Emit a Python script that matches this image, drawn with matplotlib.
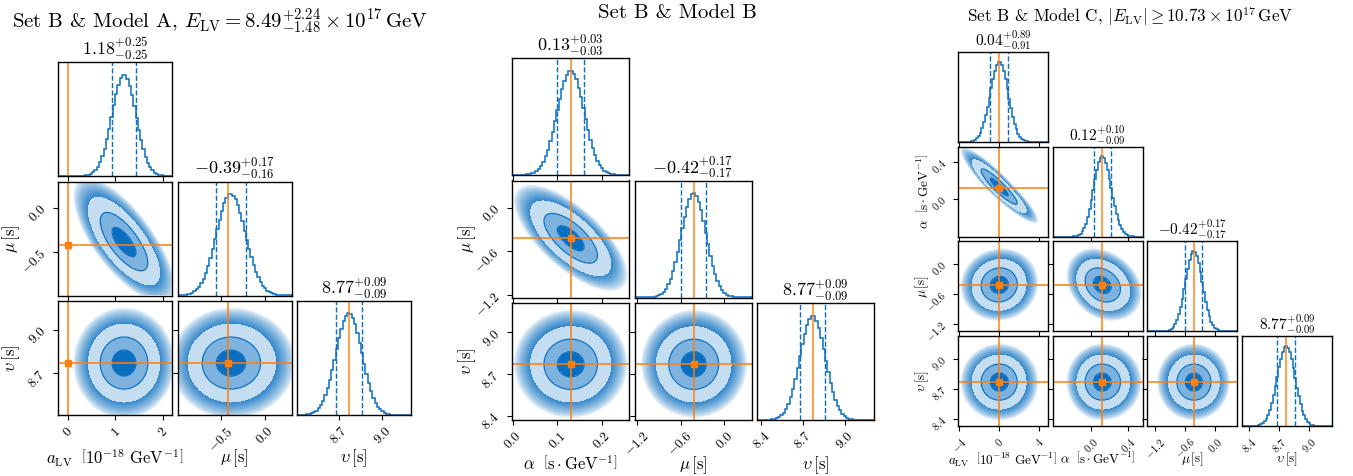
import numpy as np
import matplotlib
matplotlib.use("Agg")
import matplotlib.pyplot as plt
from matplotlib.colors import to_rgba

plt.rcParams["mathtext.fontset"] = "cm"
plt.rcParams["font.family"] = ["cmr10", "DejaVu Serif"]
plt.rcParams["axes.formatter.use_mathtext"] = True

W, H = 1353, 476
BLUE = "#0a6fc0"
MID = "#7fb3df"
LIGHT = "#c4ddf1"
ORANGE = "#ff7f0e"

# ── Panel A: Set B & Model A ─────────────────────────────────────────────────
A_median = [1.18, -0.39, 8.77]
A_plus = [0.25, 0.17, 0.09]
A_minus = [0.25, 0.16, 0.09]
A_truth = [0.0, -0.42, 8.77]
A_lims = [(-0.21, 2.19), (-0.99, 0.30), (8.41, 9.20)]
A_ticks = [[0, 1, 2], [-0.5, 0.0], [8.7, 9.0]]
A_ticklabels = [["0", "1", "2"], ["-0.5", "0.0"], ["8.7", "9.0"]]
A_corr = {(1, 0): -0.72, (2, 0): 0.0, (2, 1): 0.0}
A_labels = [r"$a_{\rm LV}\ \ \left[10^{-18}\ \mathrm{GeV}^{-1}\right]$",
            r"$\mu\,[\mathrm{s}]$", r"$\upsilon\,[\mathrm{s}]$"]
A_title = (r"Set B & Model A, $E_{\rm LV} = "
           r"8.49^{+2.24}_{-1.48}\times 10^{17}\,\mathrm{GeV}$")

# ── Panel B: Set B & Model B ─────────────────────────────────────────────────
B_median = [0.13, -0.42, 8.77]
B_plus = [0.03, 0.17, 0.09]
B_minus = [0.03, 0.17, 0.09]
B_truth = [0.13, -0.42, 8.77]
B_lims = [(-0.002, 0.261), (-1.23, 0.37), (8.37, 9.21)]
B_ticks = [[0.0, 0.1, 0.2], [-1.2, -0.6, 0.0], [8.4, 8.7, 9.0]]
B_ticklabels = [["0.0", "0.1", "0.2"], ["-1.2", "-0.6", "0.0"], ["8.4", "8.7", "9.0"]]
B_corr = {(1, 0): -0.7, (2, 0): 0.0, (2, 1): 0.0}
B_labels = [r"$\alpha\ \ \left[\mathrm{s}\cdot\mathrm{GeV}^{-1}\right]$",
            r"$\mu\,[\mathrm{s}]$", r"$\upsilon\,[\mathrm{s}]$"]
B_title = "Set B & Model B"

# ── Panel C: Set B & Model C ─────────────────────────────────────────────────
C_median = [0.04, 0.12, -0.42, 8.77]
C_plus = [0.89, 0.10, 0.17, 0.09]
C_minus = [0.91, 0.09, 0.17, 0.09]
C_truth = [0.0, 0.12, -0.42, 8.77]
C_lims = [(-4.1, 4.9), (-0.41, 0.56), (-1.35, 0.45), (8.33, 9.23)]
C_ticks = [[-4, 0, 4], [0.0, 0.4], [-1.2, -0.6, 0.0], [8.4, 8.7, 9.0]]
C_ticklabels = [["-4", "0", "4"], ["0.0", "0.4"], ["-1.2", "-0.6", "0.0"],
                ["8.4", "8.7", "9.0"]]
C_corr = {(1, 0): -0.92, (2, 0): 0.05, (2, 1): -0.25,
          (3, 0): 0.0, (3, 1): 0.0, (3, 2): 0.0}
C_labels = [r"$a_{\rm LV}\ \ \left[10^{-18}\ \mathrm{GeV}^{-1}\right]$",
            r"$\alpha\ \ \left[\mathrm{s}\cdot\mathrm{GeV}^{-1}\right]$",
            r"$\mu\,[\mathrm{s}]$", r"$\upsilon\,[\mathrm{s}]$"]
C_title = (r"Set B & Model C, $|E_{\rm LV}| \geq "
           r"10.73\times 10^{17}\,\mathrm{GeV}$")


def zscore(x, m, sp, sm):
    return np.where(x >= m, (x - m) / sp, (x - m) / sm)


def fmt(v):
    return "%.2f" % v


def draw_corner(fig, left, top, cell, gap, med, plus, minus, truth, lims,
                ticks, ticklabels, corr, labels, tfs, lfs, hfs,
                xlab_y, ylab_x):
    n = len(med)
    for i in range(n):
        for j in range(i + 1):
            x0 = left + j * (cell + gap)
            y0 = top + i * (cell + gap)
            ax = fig.add_axes([x0 / W, 1 - (y0 + cell) / H, cell / W, cell / H])
            if i == j:
                edges = np.linspace(lims[i][0], lims[i][1], 51)
                c = 0.5 * (edges[1:] + edges[:-1])
                z = zscore(c, med[i], plus[i], minus[i])
                h = np.exp(-0.5 * z ** 2)
                ax.stairs(h, edges, color=BLUE, lw=1.1)
                ax.axvline(med[i] - minus[i], color=BLUE, ls="--", lw=1)
                ax.axvline(med[i] + plus[i], color=BLUE, ls="--", lw=1)
                ax.axvline(truth[i], color=ORANGE, alpha=0.75, lw=1.4)
                ax.set_ylim(0, 1.12)
                ax.set_yticks([])
                ax.set_xlim(*lims[i])
                ax.set_title(r"$%s^{+%s}_{-%s}$" % (fmt(med[i]), fmt(plus[i]),
                                                    fmt(minus[i])),
                             fontsize=hfs, pad=3)
            else:
                xs = np.linspace(lims[j][0], lims[j][1], 260)
                ys = np.linspace(lims[i][0], lims[i][1], 260)
                X, Y = np.meshgrid(xs, ys)
                zx = zscore(X, med[j], plus[j], minus[j])
                zy = zscore(Y, med[i], plus[i], minus[i])
                rho = corr[(i, j)]
                r = np.sqrt((zx ** 2 - 2 * rho * zx * zy + zy ** 2) / (1 - rho ** 2))
                # fading "sample cloud" outside the outer contour
                rgba = np.zeros(X.shape + (4,))
                rgba[..., :3] = to_rgba(BLUE)[:3]
                rgba[..., 3] = np.clip((4.3 - r) / 1.3, 0, 1) ** 0.7 * 0.85
                ax.imshow(rgba, origin="lower", aspect="auto",
                          extent=[lims[j][0], lims[j][1], lims[i][0], lims[i][1]],
                          interpolation="bilinear")
                ax.contourf(X, Y, r, levels=[0, 1, 2, 3],
                            colors=[BLUE, MID, LIGHT])
                ax.contour(X, Y, r, levels=[1, 2], colors=BLUE, linewidths=0.9)
                ax.axvline(truth[j], color=ORANGE, alpha=0.8, lw=1.4)
                ax.axhline(truth[i], color=ORANGE, alpha=0.8, lw=1.4)
                ax.plot(truth[j], truth[i], "s", color=ORANGE, ms=5)
                ax.set_xlim(*lims[j])
                ax.set_ylim(*lims[i])
                ax.set_yticks(ticks[i])
                if j == 0:
                    ax.set_yticklabels(["$%s$" % t for t in ticklabels[i]],
                                       rotation=45, fontsize=tfs)
                    ax.set_ylabel(labels[i], fontsize=lfs)
                    ax.yaxis.set_label_coords(ylab_x, 0.5)
                else:
                    ax.set_yticklabels([])
            col = j
            ax.set_xticks(ticks[col])
            if i == n - 1:
                ax.set_xticklabels(["$%s$" % t for t in ticklabels[col]],
                                   rotation=45, fontsize=tfs)
                ax.set_xlabel(labels[col], fontsize=lfs)
                ax.xaxis.set_label_coords(0.5, xlab_y)
            else:
                ax.set_xticklabels([])
            for s in ax.spines.values():
                s.set_linewidth(1.0)


fig = plt.figure(figsize=(W / 100, H / 100), dpi=100)

draw_corner(fig, 58, 62, 114, 5.5, A_median, A_plus, A_minus, A_truth, A_lims,
            A_ticks, A_ticklabels, A_corr, A_labels, 9.5, 12, 13, -0.28, -0.32)
draw_corner(fig, 512, 58, 117, 5.5, B_median, B_plus, B_minus, B_truth, B_lims,
            B_ticks, B_ticklabels, B_corr, B_labels, 9.5, 12, 13, -0.29, -0.29)
draw_corner(fig, 958, 52, 90, 4.7, C_median, C_plus, C_minus, C_truth, C_lims,
            C_ticks, C_ticklabels, C_corr, C_labels, 7.5, 9.5, 11, -0.27, -0.30)

fig.text(12 / W, 1 - 22 / H, A_title, fontsize=15, ha="left", va="center")
fig.text(677 / W, 1 - 13 / H, B_title, fontsize=15, ha="center", va="center")
fig.text(1130 / W, 1 - 16 / H, C_title, fontsize=12.3, ha="center", va="center")

fig.savefig("out.png", dpi=100)
